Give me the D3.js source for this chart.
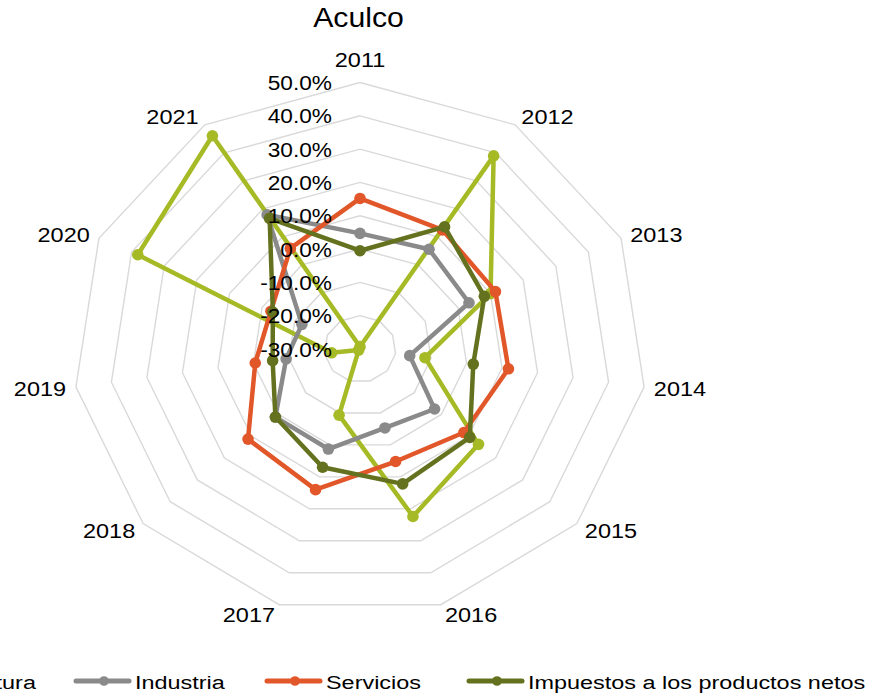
<!DOCTYPE html>
<html>
<head>
<meta charset="utf-8">
<script src="https://cdn.jsdelivr.net/npm/d3@7"></script>
<style>
  body { margin: 0; background: #fff; }
  svg { display: block; font-family: "Liberation Sans", Arial, sans-serif; }
</style>
</head>
<body>
<div id="chart"></div>
<script>
// data, in percent
const years = ["2011", "2012", "2013", "2014", "2015", "2016", "2017", "2018", "2019", "2020", "2021"];
const agricultura = [-29.3, 38.9, 10.0, -11.7, 13.7, 22.4, -9.3, -29.5, -22.0, 38.1, 46.1];
const industria = [4.7, 5.6, 3.4, -16.0, -2.5, -5.3, 1.3, 1.2, -9.2, -12.2, 17.9];
const servicios = [15.2, 12.5, 11.5, 11.8, 8.3, 5.2, 14.0, 11.3, -0.5, -2.7, 5.9];
const impuestos = [-0.5, 13.6, 8.1, 1.9, 10.5, 12.2, 7.0, 1.2, -5.4, -3.3, 16.6];
const tickValues = [-30, -20, -10, 0, 10, 20, 30, 40, 50];
const seriesNames = ["Agricultura", "Industria", "Servicios", "Impuestos a los productos netos"];
const seriesColors = ["#A6BA26", "#8A8A8A", "#E2572A", "#64711E"];

const width = 876;
const height = 700;
const cx = 360, cy = 349;
const Rx = 287, Ry = 266.5;   // the picture is a bit wider than tall

const svg = d3.select("#chart")
    .append("svg")
    .attr("width", width)
    .attr("height", height);

const r = d3.scaleLinear().domain([-30, 50]).range([0, 1]);
const angle = d3.scaleLinear().domain([0, years.length]).range([0, 2 * Math.PI]);

function px(i, v) { return cx + Rx * r(v) * Math.sin(angle(i)); }
function py(i, v) { return cy - Ry * r(v) * Math.cos(angle(i)); }

// stretched text helper
function label(g, x, y, txt, size, sx, anchor) {
    return g.append("text")
        .attr("transform", `translate(${x},${y}) scale(${sx},1)`)
        .attr("text-anchor", anchor)
        .attr("font-size", size)
        .attr("fill", "#000")
        .text(txt);
}

// grid
const grid = svg.append("g");
tickValues.filter(t => t > -30).forEach(t => {
    const pts = years.map((y, i) => [px(i, t), py(i, t)]);
    grid.append("polygon")
        .attr("points", pts.map(p => p.join(",")).join(" "))
        .attr("fill", "none")
        .attr("stroke", "#D9D9D9")
        .attr("stroke-width", 1.4);
});

// series
const all = [agricultura, industria, servicios, impuestos];
const lineGen = d3.line()
    .x((d, i) => px(i, d))
    .y((d, i) => py(i, d))
    .curve(d3.curveLinearClosed);

all.forEach((vals, k) => {
    const g = svg.append("g");
    g.append("path")
        .attr("d", lineGen(vals))
        .attr("fill", "none")
        .attr("stroke", seriesColors[k])
        .attr("stroke-width", 4.5)
        .attr("stroke-linejoin", "round");
    g.selectAll("circle")
        .data(vals)
        .join("circle")
        .attr("cx", (d, i) => px(i, d))
        .attr("cy", (d, i) => py(i, d))
        .attr("r", 5.8)
        .attr("fill", seriesColors[k]);
});

// radial tick labels
const ticks = svg.append("g");
tickValues.forEach(t => {
    label(ticks, 332, py(0, t) + 7.5, t.toFixed(1) + "%", 21, 1.08, "end");
});

// category labels
const cats = svg.append("g");
years.forEach((yr, i) => {
    const s = Math.sin(angle(i)), c = Math.cos(angle(i));
    const vx = px(i, 50), vy = py(i, 50);
    let x, y;
    if (Math.abs(s) < 0.01) {
        x = vx; y = vy - 23;
    } else {
        x = vx + Math.sign(s) * (28 + 8 * Math.abs(s));
        y = vy - c * 10;
    }
    label(cats, x, y + 7.5, yr, 21, 1.12, "middle");
});

// title
label(svg, 358.5, 27, "Aculco", 28, 1.08, "middle");

// legend
const legendX = [-135, 76, 267, 469];
const legY = 681;
const legend = svg.append("g");
seriesNames.forEach((name, k) => {
    const x0 = legendX[k];
    legend.append("line")
        .attr("x1", x0).attr("x2", x0 + 53)
        .attr("y1", legY).attr("y2", legY)
        .attr("stroke", seriesColors[k])
        .attr("stroke-width", 5)
        .attr("stroke-linecap", "round");
    legend.append("circle")
        .attr("cx", x0 + 28).attr("cy", legY)
        .attr("r", 4.8)
        .attr("fill", seriesColors[k]);
    label(legend, x0 + 59, legY + 7.5, name, 18.6, 1.26, "start");
});
</script>
</body>
</html>
